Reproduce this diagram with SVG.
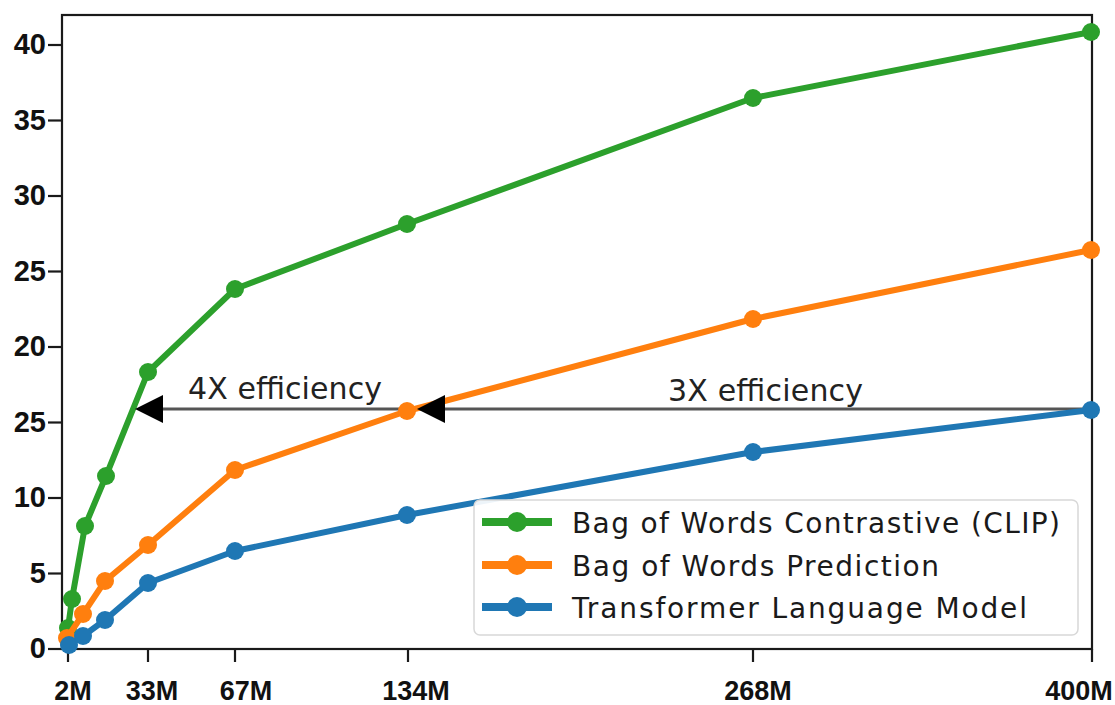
<svg xmlns="http://www.w3.org/2000/svg" width="1115" height="705" viewBox="0 0 1115 705">
<style>
.frame{fill:none;stroke:#1a1a1a;stroke-width:2.2}
.tick{stroke:#1a1a1a;stroke-width:2.2}
.ylab{font-family:"Liberation Sans",Arial,sans-serif;font-weight:bold;font-size:29px;fill:#111;text-anchor:end}
.xlab{font-family:"Liberation Sans",Arial,sans-serif;font-weight:bold;font-size:27px;fill:#111;text-anchor:middle}
.ann{font-family:"DejaVu Sans",sans-serif;font-size:30px;fill:#222}
.leg{font-family:"DejaVu Sans",sans-serif;font-size:28px;fill:#1a1a1a}
.ln{fill:none;stroke-width:6;stroke-linejoin:round;stroke-linecap:round}
.g{stroke:#2ca02c}.o{stroke:#ff7f0e}.b{stroke:#1f77b4}
.gm{fill:#2ca02c}.om{fill:#ff7f0e}.bm{fill:#1f77b4}
.arr{stroke:#555;stroke-width:3;fill:none}
.head{fill:#000}
</style>
<rect width="1115" height="705" fill="#fff"/>
<g id="axes">
<rect class="frame" x="62" y="15" width="1030" height="634"/>
<g class="tick">
<line x1="48" y1="45" x2="62" y2="45"/><line x1="48" y1="120.5" x2="62" y2="120.5"/><line x1="48" y1="196" x2="62" y2="196"/><line x1="48" y1="271.5" x2="62" y2="271.5"/><line x1="48" y1="347" x2="62" y2="347"/><line x1="48" y1="422.5" x2="62" y2="422.5"/><line x1="48" y1="498" x2="62" y2="498"/><line x1="48" y1="573.5" x2="62" y2="573.5"/><line x1="48" y1="649" x2="62" y2="649"/>
<line x1="68" y1="649" x2="68" y2="662"/><line x1="148" y1="649" x2="148" y2="662"/><line x1="235" y1="649" x2="235" y2="662"/><line x1="408" y1="649" x2="408" y2="662"/><line x1="753" y1="649" x2="753" y2="662"/><line x1="1092" y1="649" x2="1092" y2="662"/>
</g>
<text class="ylab" x="46" y="54">40</text>
<text class="ylab" x="46" y="130">35</text>
<text class="ylab" x="46" y="205">30</text>
<text class="ylab" x="46" y="281">25</text>
<text class="ylab" x="46" y="356">20</text>
<text class="ylab" x="46" y="432">25</text>
<text class="ylab" x="46" y="507">10</text>
<text class="ylab" x="46" y="583">5</text>
<text class="ylab" x="46" y="658">0</text>
<text class="xlab" x="73" y="700">2M</text>
<text class="xlab" x="152" y="700">33M</text>
<text class="xlab" x="246" y="700">67M</text>
<text class="xlab" x="416" y="700">134M</text>
<text class="xlab" x="758" y="700">268M</text>
<text class="xlab" x="1079" y="700">400M</text>
</g>
<g id="connectors">
<line class="arr" x1="150" y1="409" x2="1091" y2="409"/>
</g>
<g id="clip-series">
<polyline class="ln g" points="68,628 72,599 85,526 106,476 148,372 235,289 407,224 753,98 1091,32"/>
<g class="gm"><circle cx="68" cy="628" r="9"/><circle cx="72" cy="599" r="9"/><circle cx="85" cy="526" r="9"/><circle cx="106" cy="476" r="9"/><circle cx="148" cy="372" r="9"/><circle cx="235" cy="289" r="9"/><circle cx="407" cy="224" r="9"/><circle cx="753" cy="98" r="9"/><circle cx="1091" cy="32" r="9"/></g>
</g>
<g id="bow-prediction-series">
<polyline class="ln o" points="67,638 83,614 105,581 148,545 235,470 407,411 753,319 1091,250"/>
<g class="om"><circle cx="67" cy="638" r="9"/><circle cx="83" cy="614" r="9"/><circle cx="105" cy="581" r="9"/><circle cx="148" cy="545" r="9"/><circle cx="235" cy="470" r="9"/><circle cx="407" cy="411" r="9"/><circle cx="753" cy="319" r="9"/><circle cx="1091" cy="250" r="9"/></g>
</g>
<g id="transformer-series">
<polyline class="ln b" points="69,645 83,636 105,620 148,583 235,551 407,515 753,452 1091,410"/>
<g class="bm"><circle cx="69" cy="645" r="9"/><circle cx="83" cy="636" r="9"/><circle cx="105" cy="620" r="9"/><circle cx="148" cy="583" r="9"/><circle cx="235" cy="551" r="9"/><circle cx="407" cy="515" r="9"/><circle cx="753" cy="452" r="9"/><circle cx="1091" cy="410" r="9"/></g>
</g>
<g id="annotations">
<polygon class="head" points="135,409 163,395 163,423"/>
<polygon class="head" points="417,409 445,395 445,423"/>
<text class="ann" x="188" y="399" textLength="194" lengthAdjust="spacing">4X efficiency</text>
<text class="ann" x="668" y="401" textLength="195" lengthAdjust="spacing">3X efficiency</text>
</g>
<g id="legend">
<rect x="474" y="500" width="604" height="135" rx="6" fill="#fff" fill-opacity="0.92" stroke="#d8d8d8" stroke-width="1.5"/>
<line x1="482" y1="522" x2="552" y2="522" stroke="#2ca02c" stroke-width="8"/><circle cx="517" cy="522" r="10" class="gm"/>
<line x1="482" y1="565" x2="552" y2="565" stroke="#ff7f0e" stroke-width="8"/><circle cx="517" cy="565" r="10" class="om"/>
<line x1="482" y1="607" x2="552" y2="607" stroke="#1f77b4" stroke-width="8"/><circle cx="517" cy="607" r="10" class="bm"/>
<text class="leg" x="572" y="533" textLength="488" lengthAdjust="spacing">Bag of Words Contrastive (CLIP)</text>
<text class="leg" x="572" y="576" textLength="367" lengthAdjust="spacing">Bag of Words Prediction</text>
<text class="leg" x="572" y="618" textLength="455" lengthAdjust="spacing">Transformer Language Model</text>
</g>
</svg>
